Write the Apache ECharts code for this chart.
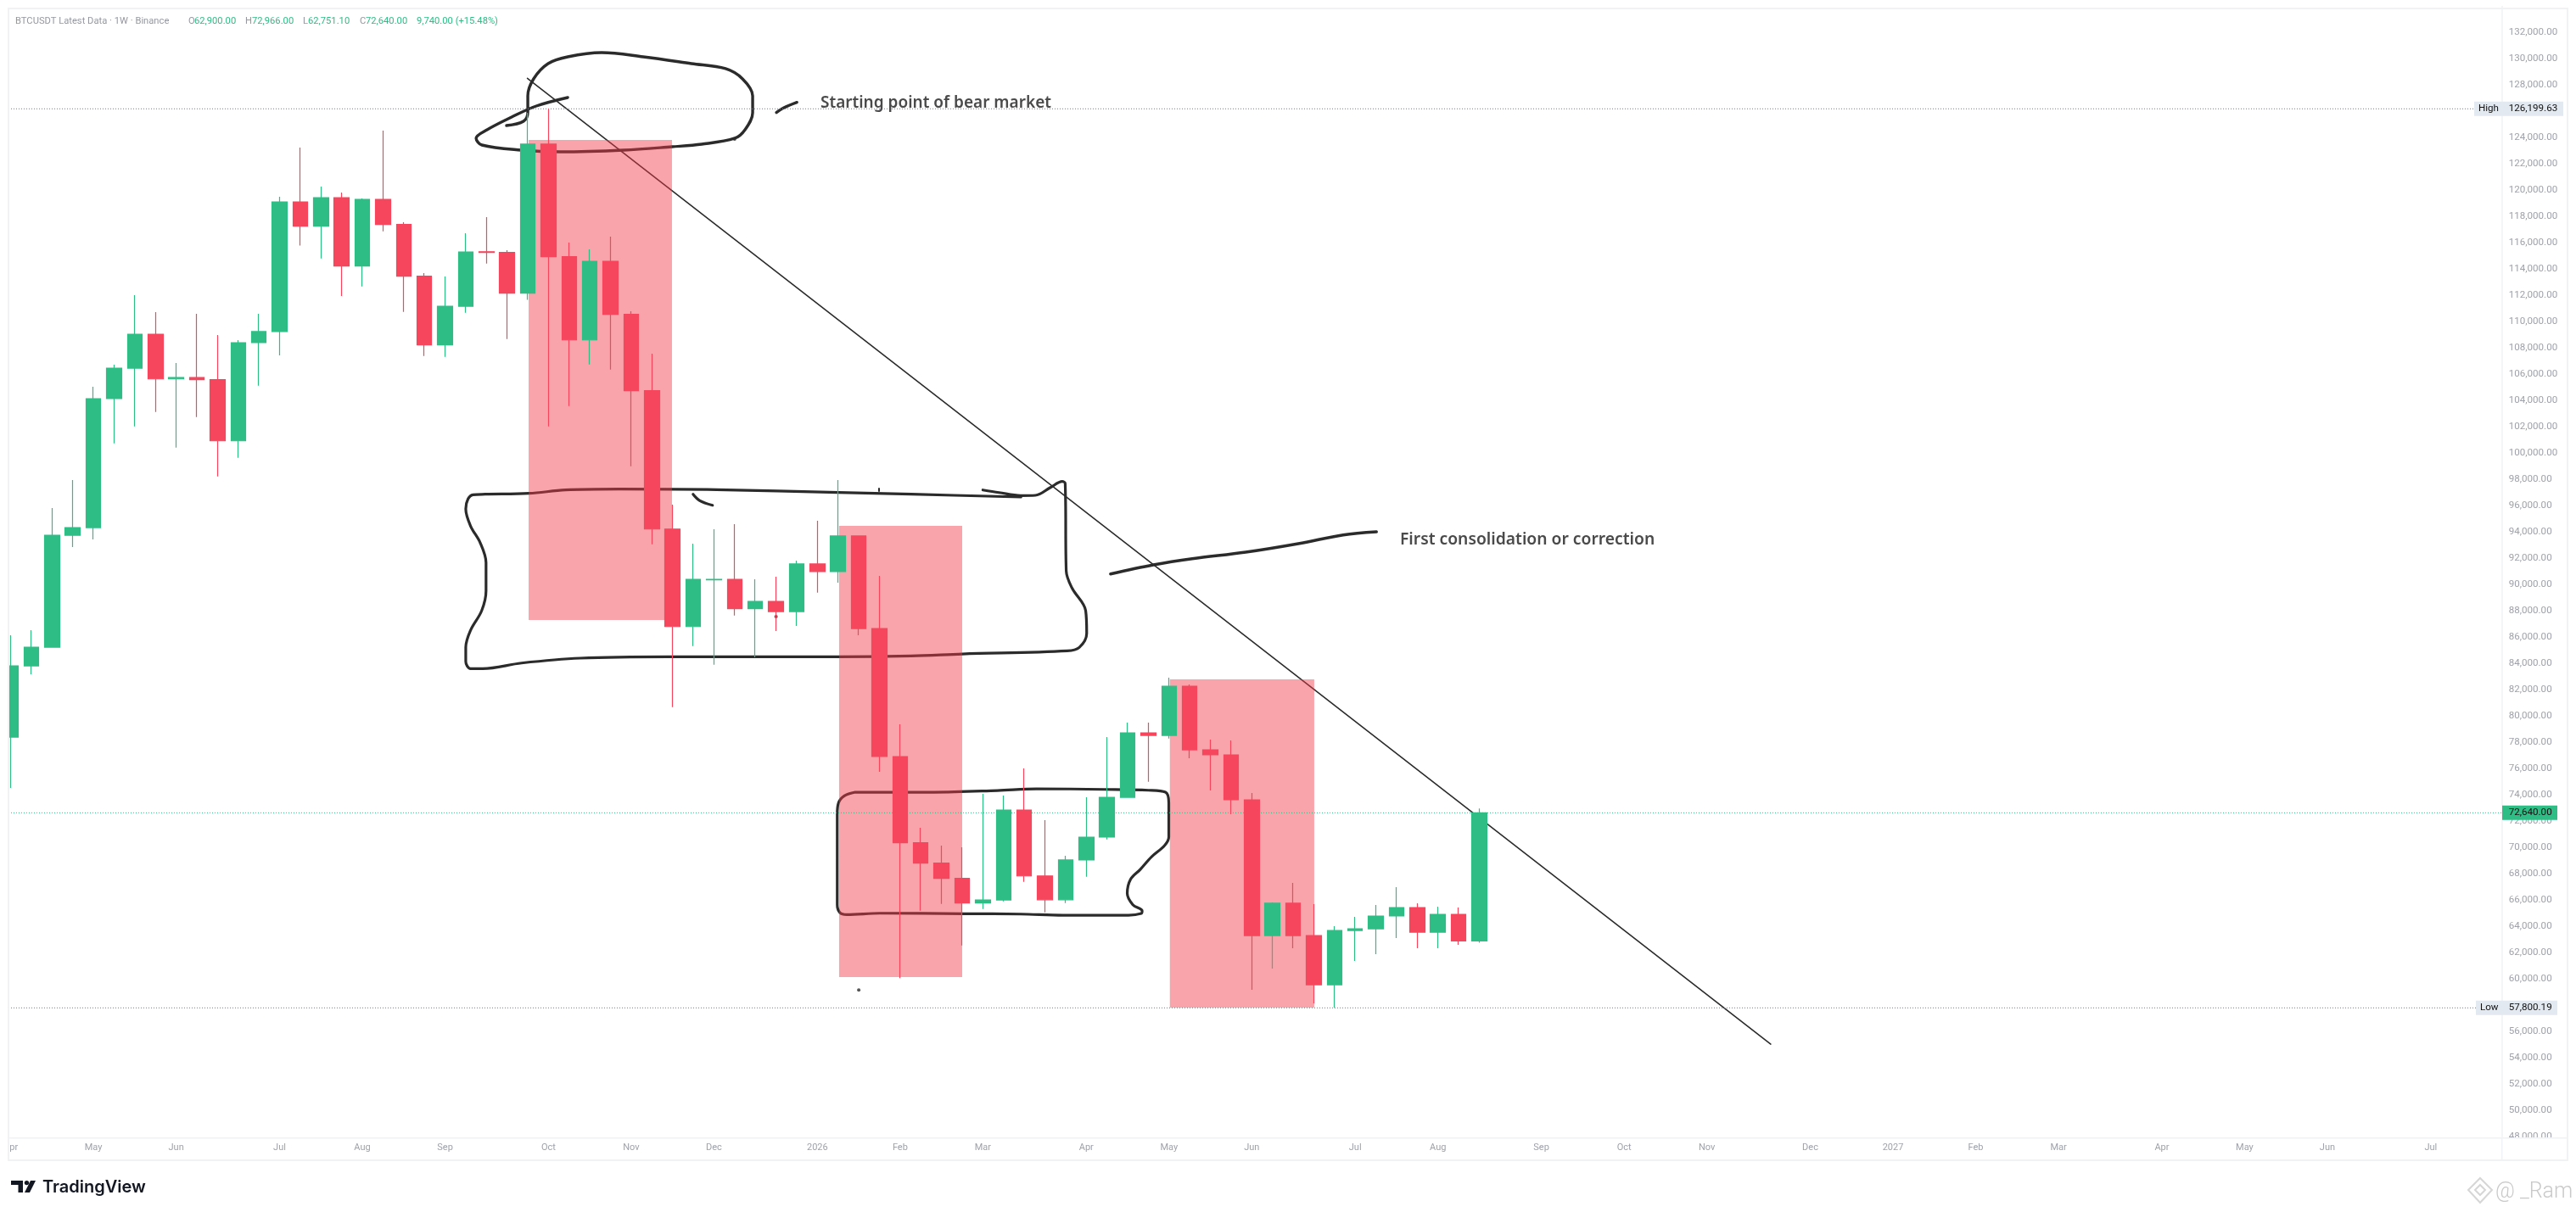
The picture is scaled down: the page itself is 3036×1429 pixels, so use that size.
<!DOCTYPE html>
<html>
<head>
<meta charset="utf-8">
<style>html,body{margin:0;padding:0;background:#fff}#c{width:3036px;height:1429px}</style>
<script src="https://cdn.jsdelivr.net/npm/echarts@6/dist/echarts.min.js"></script>
</head>
<body>
<div id="c"></div>
<script>
// Weekly candles, BTCUSDT, first week = 7 Apr 2025
const opens=[78400,83820,85240,93760,94340,104150,106470,109050,105650,105760,105590,100940,108410,109250,119120,117270,119440,114240,119310,117400,113460,108240,111180,115330,115270,112170,123510,114950,108620,114600,110560,104750,94230,86810,90360,90400,88170,88730,87950,91570,90990,93700,86660,76920,70360,68810,67650,65780,66010,72850,67840,66030,69050,70790,73820,78720,78530,82270,77430,77050,73630,63300,65760,63300,59560,63690,63820,64790,65430,63560,64920,62900];
const closes=[83820,85240,93760,94340,104150,106470,109050,105650,105760,105590,100940,108410,109250,119120,117270,119440,114240,119310,117400,113460,108240,111180,115310,115270,112170,123510,114950,108620,114600,110560,104750,94230,86810,90400,90400,88170,88730,87950,91570,90990,93700,86660,76920,70360,68810,67650,65780,66010,72850,67840,66030,69050,70790,73820,78720,78530,82270,77430,77050,73630,63300,65760,63300,59560,63690,63820,64790,65430,63560,64920,62900,72640];
const lows=[74530,83180,85200,92860,93440,100750,102040,103140,100430,102750,98230,99650,105140,107440,115790,114820,111960,112690,116880,110750,107400,107330,110690,114430,108690,111660,102040,103590,106750,106360,99000,93070,80680,85330,83910,87650,84470,86470,86860,89390,90150,86150,75760,60060,65190,65710,62550,65320,65900,67390,65060,65780,67770,70610,73800,75000,78290,76790,74340,72530,59170,60790,62340,58140,57800.19,61370,61880,63110,62340,62340,62590,62751.10];
const highs=[86150,86540,95830,97960,105050,106730,112020,110730,106860,110600,108990,108600,110600,119510,123250,120280,119830,119380,124540,117570,113700,113440,116730,117960,115440,125900,126199.63,116020,115510,116480,110800,107570,96080,93120,94210,94600,90400,90600,91820,94860,97960,93700,90660,79370,71500,70140,70010,74080,73950,76020,72080,69370,73820,78400,79500,79500,82920,82400,78210,78140,74140,65820,67300,65690,64010,64720,65630,66980,65760,65500,65430,72966];

// Time axis: week index where each month label sits
const timeTickIndex=[0,4,8,13,17,21,26,30,34,39,43,47,52,56,60,65,69,74,78,82,87,91,95,99,104,108,112,117];
const timeTickLabels=['Apr','May','Jun','Jul','Aug','Sep','Oct','Nov','Dec','2026','Feb','Mar','Apr','May','Jun','Jul','Aug','Sep','Oct','Nov','Dec','2027','Feb','Mar','Apr','May','Jun','Jul'];

// Shaded boxes: [weekStart, weekEnd, priceTop, priceBottom]
const shadedBoxes=[[25.04,31.97,123832,87307],[40.05,46.0,94470,60140],[56.04,63.02,82790,57817]];

// Price levels
const levelPrices=[126199.63,57800.19,72640];
const levelNames=['High','Low',''];

// Trend line and freehand marks, in [week index, price]
const trendLine=[[24.98,128523],[85.09,55043]];
const strokeBlob=[[23.97,124929],[24.79,125251],[25.0,125961],[25.0,127187],[25.28,128478],[25.98,129639],[26.93,130155],[28.57,130478],[30.58,130155],[32.91,129639],[34.56,129252],[35.38,128478],[35.87,127187],[35.87,125897],[35.5,124606],[35.01,123961],[33.41,123509],[31.97,123315],[29.63,123057],[26.56,122928],[24.67,123057],[22.78,123444],[22.5,123961],[23.03,124606],[24.22,125574],[25.41,126413],[26.93,127058]];
const strokeTopArrow=[[37.02,125916],[37.36,126264],[38.01,126690]];
const strokeBox=[[48.84,96664],[43.54,96877],[40.01,97006],[34.12,97226],[29.41,97265],[26.82,97200],[25.06,96942],[22.94,96877],[22.35,96839],[22.11,96516],[22.0,95761],[22.23,94470],[22.7,93180],[22.98,91676],[22.98,89521],[22.77,88017],[22.23,86514],[22.0,85223],[22.0,84146],[22.23,83610],[22.82,83610],[24.7,84036],[27.53,84404],[31.77,84514],[40.01,84514],[43.54,84578],[46.0,84726],[51.08,84965],[51.66,85223],[52.02,86294],[51.97,88017],[51.31,89740],[51.03,91031],[50.98,97697],[50.84,97845],[50.25,97374],[49.54,96793],[48.83,96774],[47.78,97006],[47.0,97200]];
const strokeBoxTick=[[32.99,96877],[33.3,96406],[33.93,96038]];
const strokeBoxDot=[[41.98,97310],[41.98,97116]];
const strokeLowBox=[[40.83,74208],[44.64,74208],[47.7,74337],[49.59,74466],[52.88,74421],[55.0,74356],[55.83,74208],[55.99,73389],[55.99,70807],[55.79,70162],[55.16,69304],[54.61,68336],[54.14,67581],[53.98,66509],[54.25,65645],[54.7,65174],[54.66,64980],[54.04,64851],[50.88,64851],[48.83,64935],[46.12,64961],[42.02,65000],[40.42,64896],[40.09,65045],[39.96,65645],[39.96,72530],[40.02,73389],[40.3,73931],[40.83,74208]];
const strokeFirstArrow=[[53.17,90811],[55.24,91502],[57.12,91973],[59.71,92470],[62.31,93135],[64.42,93780],[66.03,94019]];
const sketchDots=[[37.0,87566],[41.0,59153],[35.0,123896]];

const GREEN='#2EBD85', RED='#F6465D', AXIS_TXT='#9fa2aa', FRAME='#f0f2f5';
const FONT='Roboto, sans-serif';
const fmt=v=>v.toLocaleString('en-US',{minimumFractionDigits:2,maximumFractionDigits:2});

const candleData=opens.map((o,i)=>[i,o,closes[i],lows[i],highs[i]]);
const labelOf={};timeTickIndex.forEach((t,i)=>labelOf[t]=timeTickLabels[i]);

const sketch=(d,w)=>({type:'line',data:d,z:1,silent:true,symbol:'none',showSymbol:false,smooth:0.35,clip:false,
  lineStyle:{color:'#2b2b2b',width:w||3,cap:'round',join:'round'},itemStyle:{color:'#2b2b2b'}});

const plotLeft=10, axisX=2948.7;
const tagBox=[[2916,105],[2918,96],[2949,65]];
const levelColor=['#787b86','#787b86',GREEN];

const chart=echarts.init(document.getElementById('c'),null,{renderer:'canvas',width:3036,height:1429,devicePixelRatio:1});
const txt=(text,x,y,fill,extra)=>({type:'text',z:100,silent:true,style:Object.assign({text,x,y,fill,fontFamily:FONT,fontSize:11.2,verticalAlign:'middle'},extra||{})});

chart.setOption({
  animation:false,
  backgroundColor:'#ffffff',
  tooltip:{show:false},
  grid:{left:plotLeft,right:3036-axisX,top:7.4,bottom:88.8},
  xAxis:{type:'value',min:-0.107,max:120.44,splitLine:{show:false},axisLine:{show:false},axisTick:{show:false},
    axisLabel:{customValues:timeTickIndex,margin:8,color:AXIS_TXT,fontFamily:FONT,fontSize:11,
      formatter:v=>labelOf[v]||''}},
  yAxis:{type:'value',position:'right',min:48000,max:134000,interval:2000,splitLine:{show:false},axisTick:{show:false},
    axisLine:{show:true,onZero:false,lineStyle:{color:FRAME,width:1.5}},
    axisLabel:{margin:8,showMaxLabel:false,color:AXIS_TXT,fontFamily:FONT,fontSize:11.6,padding:[0,0,3,0],formatter:v=>fmt(v)}},
  series:[
    sketch(trendLine,1.6),
    sketch(strokeBlob,3.4),sketch(strokeTopArrow,3.4),sketch(strokeBox,3.2),sketch(strokeBoxTick,3.2),sketch(strokeBoxDot,2),
    sketch(strokeLowBox,3.2),sketch(strokeFirstArrow,3.4),
    {type:'scatter',data:sketchDots,z:1,silent:true,symbolSize:4,itemStyle:{color:'#2b2b2b'}},
    {type:'custom',z:2,silent:true,data:shadedBoxes,encode:{x:[0,1],y:[2,3]},
      renderItem:(p,api)=>{
        const a=api.coord([api.value(0),api.value(2)]),b=api.coord([api.value(1),api.value(3)]);
        return {type:'rect',shape:{x:a[0],y:a[1],width:b[0]-a[0],height:b[1]-a[1]},style:{fill:'rgba(242,54,69,0.46)'}};
      }},
    {type:'custom',z:2.5,silent:true,data:levelPrices.map(v=>[0,v]),encode:{x:0,y:1},
      renderItem:(p,api)=>{
        const y=api.coord([0,api.value(1)])[1],i=p.dataIndex;
        const end=i===2?axisX:tagBox[i][0];
        return {type:'line',shape:{x1:plotLeft,y1:y,x2:end,y2:y},style:{stroke:levelColor[i],lineWidth:1,lineDash:[1,2]}};
      }},
    {type:'candlestick',z:3,silent:true,data:candleData,barWidth:18,clip:true,
      itemStyle:{color:GREEN,color0:RED,borderColor:GREEN,borderColor0:RED,borderWidth:1.2}},
    {type:'custom',z:10,silent:true,data:levelPrices.map(v=>[0,v]),encode:{x:0,y:1},
      renderItem:(p,api)=>{
        const v=api.value(1),y=api.coord([0,v])[1],i=p.dataIndex;
        const b=tagBox[i],cur=i===2;
        const ch=[{type:'rect',shape:{x:b[0],y:y-8.5,width:b[1],height:17},style:{fill:cur?GREEN:'#e3e9f0'}}];
        if(levelNames[i])ch.push({type:'text',style:{text:levelNames[i],x:b[0]+5,y:y,fill:'#111',fontFamily:FONT,fontSize:11.6,verticalAlign:'middle'}});
        ch.push({type:'text',style:{text:fmt(v),x:2956.7,y:y,fill:'#111',fontFamily:FONT,fontSize:11.6,verticalAlign:'middle'}});
        return {type:'group',children:ch};
      }}
  ],
  graphic:{elements:[
    // panel covers and frame
    {type:'rect',z:90,silent:true,shape:{x:0,y:0,width:9.5,height:1429},style:{fill:'#fff'}},
    {type:'rect',z:90,silent:true,shape:{x:axisX+1,y:1342,width:80,height:26},style:{fill:'#fff'}},
    {type:'rect',z:95,silent:true,shape:{x:10,y:10,width:3016,height:1358},style:{fill:'none',stroke:'#f1f2f4',lineWidth:2}},
    {type:'line',z:95,silent:true,shape:{x1:10,y1:1341.7,x2:3026,y2:1341.7},style:{stroke:FRAME,lineWidth:1.5}},
    {type:'line',z:95,silent:true,shape:{x1:axisX,y1:1341.7,x2:axisX,y2:1368},style:{stroke:FRAME,lineWidth:1.5}},
    // header
    txt('BTCUSDT Latest Data · 1W · Binance',18,25,'#9598a1'),
    txt('O',222,25,'#9598a1'),txt('62,900.00',229,25,GREEN),
    txt('H',289,25,'#9598a1'),txt('72,966.00',297,25,GREEN),
    txt('L',357,25,'#9598a1'),txt('62,751.10',363,25,GREEN),
    txt('C',424,25,'#9598a1'),txt('72,640.00',431,25,GREEN),
    txt('9,740.00 (+15.48%)',491,25,GREEN),
    // annotations
    txt('Starting point of bear market',967,122,'#4a4a4a',{fontFamily:'"Noto Sans",sans-serif',fontWeight:600,fontSize:19}),
    txt('First consolidation or correction',1650,637,'#4a4a4a',{fontFamily:'"Noto Sans",sans-serif',fontWeight:600,fontSize:19.3}),
    // TradingView logo
    {type:'polygon',z:100,silent:true,shape:{points:[[13,1392],[27,1392],[27,1406],[21.5,1406],[21.5,1397],[13,1397]]},style:{fill:'#131722'}},
    {type:'circle',z:100,silent:true,shape:{cx:31.5,cy:1394.6,r:2.7},style:{fill:'#131722'}},
    {type:'polygon',z:100,silent:true,shape:{points:[[36,1392],[42,1392],[35,1406],[29,1406]]},style:{fill:'#131722'}},
    txt('TradingView',50,1399.5,'#131722',{fontFamily:'Inter, sans-serif',fontWeight:600,fontSize:20}),
    // watermark
    {type:'polygon',z:100,silent:true,shape:{points:[[2923,1389],[2937,1403],[2923,1418],[2909,1403]]},style:{fill:'none',stroke:'#d6d6d6',lineWidth:2}},
    {type:'polygon',z:100,silent:true,shape:{points:[[2923,1397],[2929,1403],[2923,1409],[2917,1403]]},style:{fill:'none',stroke:'#d6d6d6',lineWidth:2}},
    txt('@ _Ram',2941,1406,'#c9c9c9',{fontWeight:300,fontSize:25})
  ]}
});
</script>
</body>
</html>
